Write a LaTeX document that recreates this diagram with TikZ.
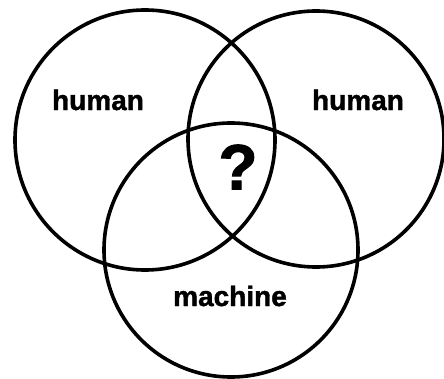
\documentclass[tikz,border=0pt]{standalone}
\usepackage{fontspec}
\setmainfont{Liberation Sans}
\newfontfamily\heavyfont[FakeBold=1.5]{Liberation Sans Bold}
\begin{document}
\begin{tikzpicture}[x=1pt,y=-1pt,
  ring/.style={draw=black,line width=3.6pt},
  lbl/.style={inner sep=0pt,font=\fontsize{28}{30}\selectfont\heavyfont},
  qlbl/.style={inner sep=0pt,font=\fontsize{64}{66}\selectfont\heavyfont}]
\useasboundingbox (0,0) rectangle (444,379);
\draw[ring] (145,140) circle[radius=130];
\draw[ring] (316,139) circle[radius=128];
\draw[ring] (231,250) circle[radius=127];
\node[lbl] (hl) at (98,100) {human};
\node[lbl] (hr) at (358,100) {human};
\node[lbl] (mc) at (230,296) {machine};
\node[qlbl] (q) at (238,167) {?};
\end{tikzpicture}
\end{document}
